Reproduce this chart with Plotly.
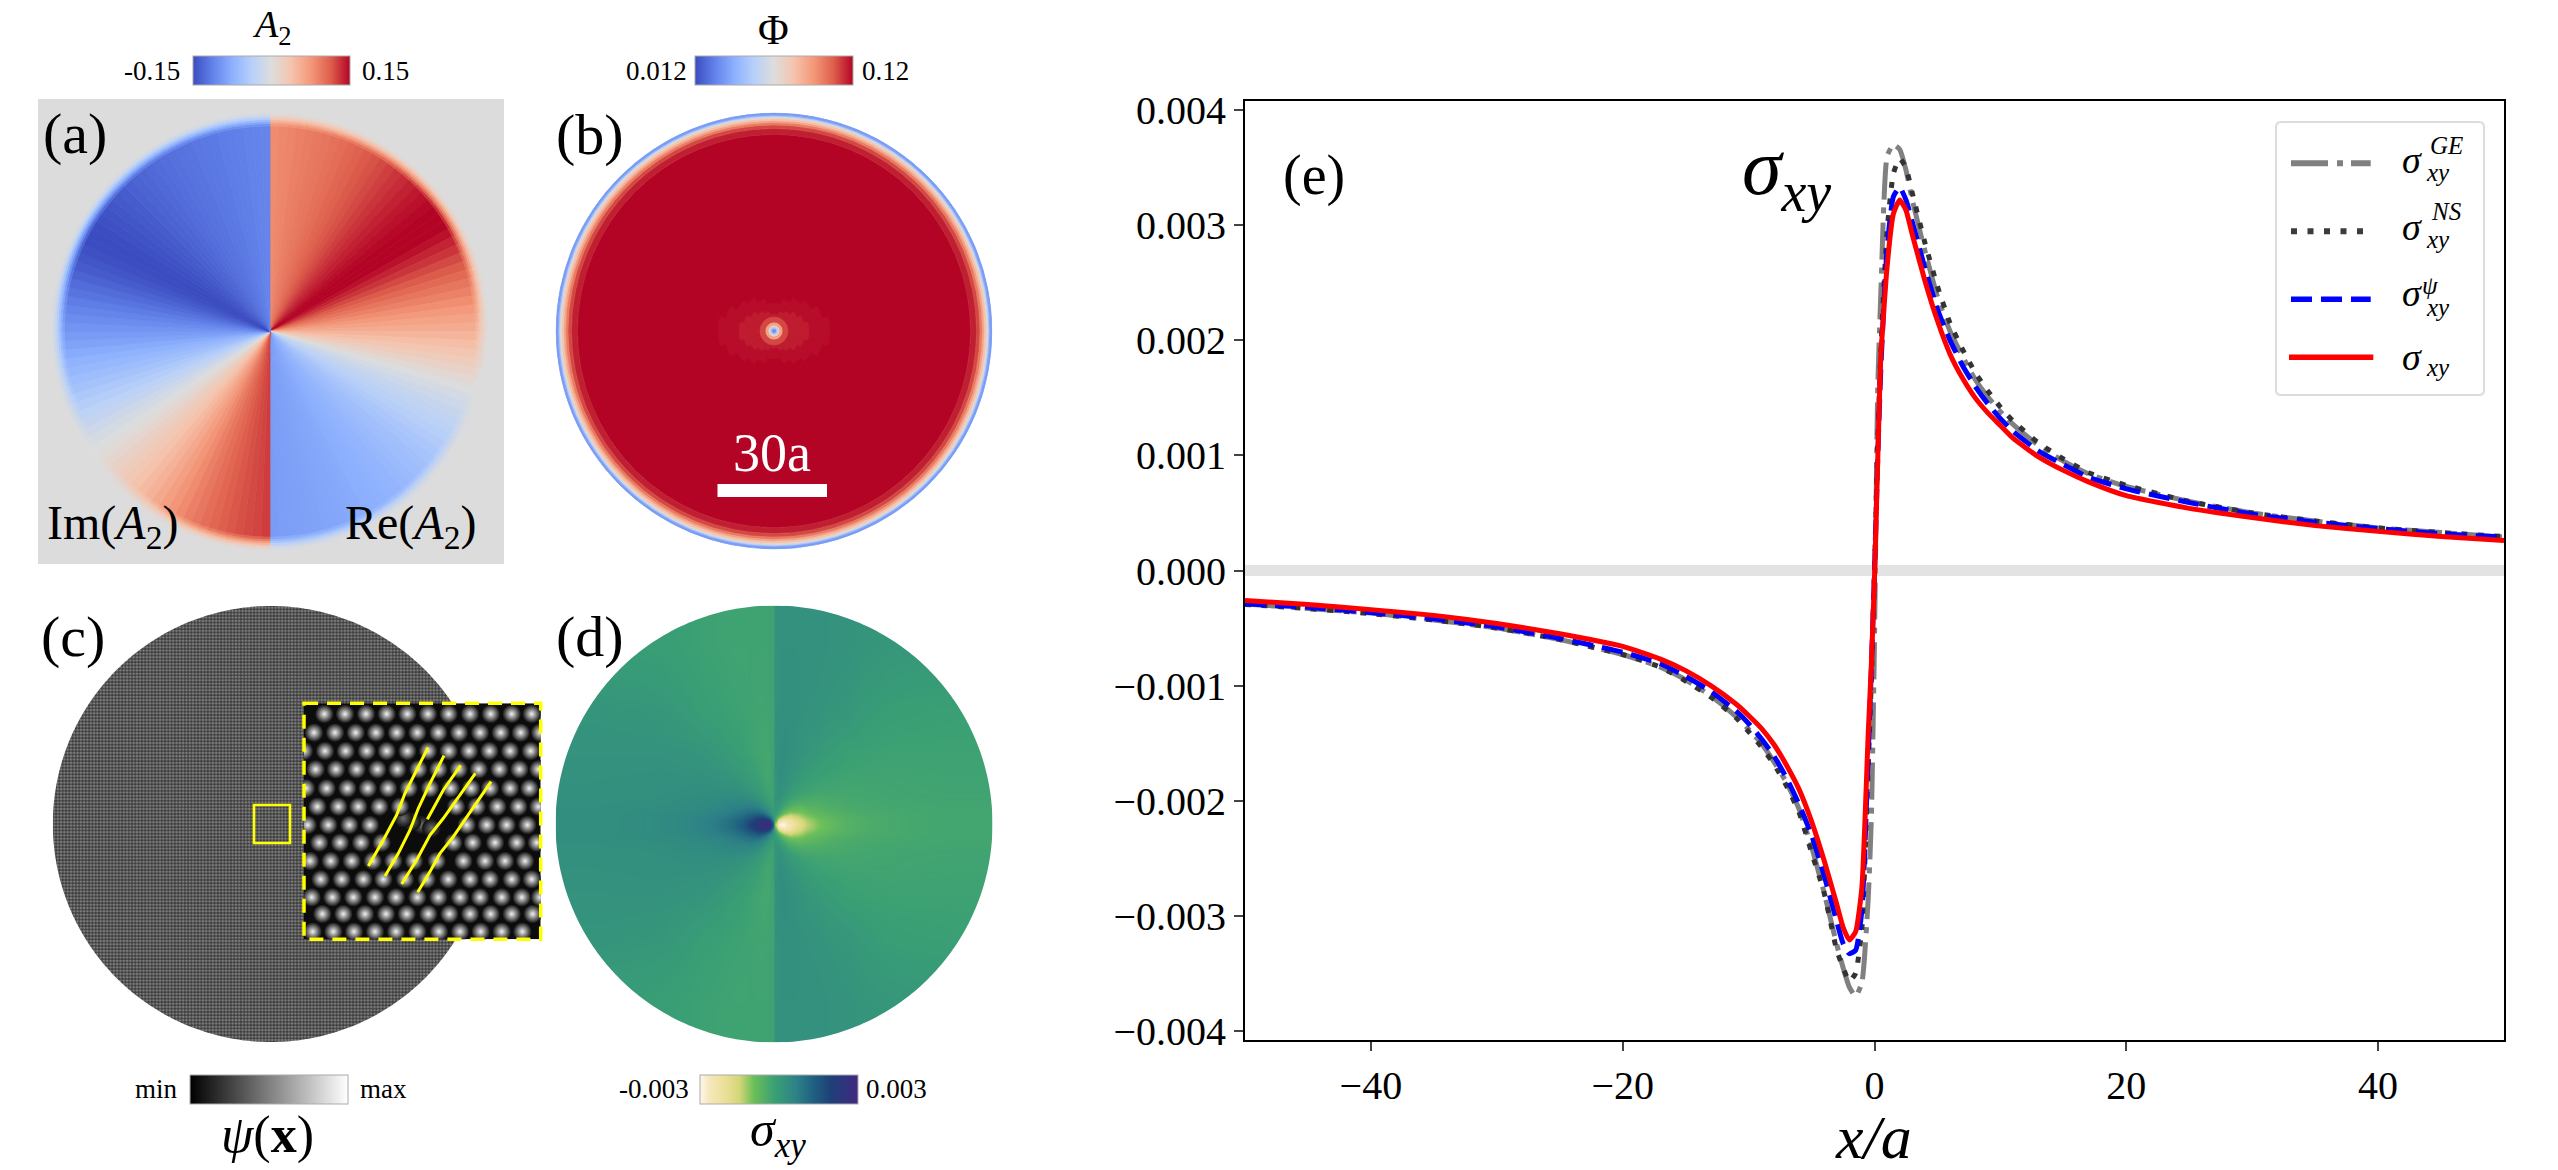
import numpy as np
import plotly.graph_objects as go

W = 2558
H = 1170
SERIF = "Liberation Serif"

# panel (e), values in units of 1e-3
X_A = [-50, -45, -40, -35, -30, -25, -20, -17, -15, -13, -11, -10, -9, -8, -7, -6, -5, -4, -3, -2.5, -2, -1.5, -1, -0.5, -0.25,
       0, 0.25, 0.5, 1, 1.5, 2, 2.5, 3, 4, 5, 6, 7, 8, 9, 10, 11, 13, 15, 17, 20, 25, 30, 35, 40, 45, 50]
SIGMA_GE = [-0.29, -0.33, -0.37, -0.43, -0.50, -0.60, -0.73, -0.84, -0.95, -1.09, -1.27, -1.38, -1.50, -1.66, -1.84, -2.07, -2.40, -2.80, -3.25, -3.45, -3.62, -3.70, -3.58, -2.85, -2.15,
            -0.6, 1.55, 2.40, 3.60, 3.70, 3.66, 3.48, 3.22, 2.78, 2.38, 2.08, 1.86, 1.66, 1.51, 1.38, 1.27, 1.09, 0.95, 0.84, 0.73, 0.60, 0.50, 0.43, 0.37, 0.33, 0.29]
SIGMA_NS = [-0.295, -0.33, -0.375, -0.43, -0.50, -0.60, -0.73, -0.84, -0.96, -1.10, -1.28, -1.40, -1.53, -1.68, -1.87, -2.10, -2.45, -2.80, -3.30, -3.45, -3.57, -3.50, -3.10, -1.70, -0.95,
            0.0, 1.10, 1.90, 2.95, 3.45, 3.58, 3.50, 3.28, 2.85, 2.47, 2.15, 1.92, 1.72, 1.56, 1.42, 1.30, 1.11, 0.97, 0.85, 0.74, 0.60, 0.50, 0.43, 0.37, 0.33, 0.295]
SIGMA_PSI = [-0.29, -0.32, -0.365, -0.42, -0.49, -0.59, -0.71, -0.81, -0.92, -1.05, -1.22, -1.33, -1.46, -1.61, -1.80, -2.03, -2.30, -2.65, -3.05, -3.24, -3.33, -3.30, -2.95, -1.60, -0.85,
             0.0, 0.95, 1.75, 2.80, 3.25, 3.33, 3.22, 3.03, 2.63, 2.27, 2.00, 1.78, 1.60, 1.45, 1.32, 1.21, 1.04, 0.92, 0.81, 0.71, 0.59, 0.49, 0.42, 0.365, 0.32, 0.29]
SIGMA = [-0.26, -0.295, -0.34, -0.39, -0.46, -0.55, -0.66, -0.77, -0.87, -1.00, -1.16, -1.26, -1.37, -1.51, -1.69, -1.90, -2.18, -2.52, -2.90, -3.10, -3.21, -3.14, -2.75, -1.42, -0.82,
         -0.06, 0.93, 1.85, 2.64, 3.10, 3.22, 3.13, 2.92, 2.52, 2.17, 1.88, 1.67, 1.50, 1.37, 1.26, 1.15, 0.99, 0.87, 0.77, 0.65, 0.54, 0.46, 0.39, 0.34, 0.295, 0.26]
X_TICKS = [-40, -20, 0, 20, 40]
Y_TICKS = [-4, -3, -2, -1, 0, 1, 2, 3, 4]

# panel (a), one value per 2.5 degree sector, clockwise from the top
A2_RE = [0.083, 0.086, 0.088, 0.091, 0.093, 0.096, 0.098, 0.101, 0.104, 0.108, 0.111, 0.115, 0.118, 0.122, 0.126, 0.130, 0.134, 0.138, 0.142, 0.145, 0.148, 0.150, 0.150, 0.150,
         0.145, 0.137, 0.130, 0.122, 0.114, 0.106, 0.098, 0.090, 0.082, 0.074, 0.066, 0.058, 0.050, 0.042, 0.034, 0.026, 0.017, 0.008,
         -0.002, -0.010, -0.017, -0.023, -0.029, -0.034, -0.039, -0.044, -0.049, -0.053, -0.057, -0.060, -0.063, -0.066, -0.069, -0.071, -0.073, -0.075, -0.077, -0.079, -0.081, -0.082, -0.083, -0.085, -0.086, -0.087, -0.088, -0.089, -0.090, -0.091]
A2_IM = [0.127, 0.124, 0.122, 0.119, 0.116, 0.113, 0.108, 0.103, 0.097, 0.091, 0.084, 0.077, 0.069, 0.061, 0.053, 0.046, 0.039, 0.032, 0.026, 0.019, 0.012, 0.005, -0.002, -0.009,
         -0.017, -0.025, -0.033, -0.040, -0.047, -0.054, -0.060, -0.066, -0.072, -0.079, -0.086, -0.092, -0.098, -0.104, -0.110, -0.116, -0.122, -0.128, -0.134, -0.139, -0.143, -0.147, -0.149, -0.150,
         -0.149, -0.147, -0.145, -0.143, -0.141, -0.139, -0.136, -0.134, -0.132, -0.130, -0.128, -0.126, -0.124, -0.123, -0.122, -0.120, -0.119, -0.118, -0.116, -0.115, -0.114, -0.112, -0.111, -0.110]
A2_RING_EDGES = [0, 206, 208.5, 210.5, 212.5, 214.5, 216.5, 218.5]
A2_RIM_FADE = [1.0, 0.88, 0.72, 0.55, 0.38, 0.22, 0.08]

# panel (b), rings from the core to the rim
PHI_RING_EDGES = [0, 2.5, 4, 6, 9, 14, 197, 203, 206.5, 209, 211, 213, 214.5, 215.5, 216.5, 218.5]
PHI_RINGS = [0.03, 0.05, 0.07, 0.09, 0.11, 0.12, 0.116, 0.11, 0.10, 0.09, 0.08, 0.07, 0.058, 0.045, 0.033]
LOBE_THETA = [7.5, 22.5, 37.5, 52.5, 67.5, 82.5, 97.5, 112.5, 127.5, 142.5, 157.5, 172.5,
              187.5, 202.5, 217.5, 232.5, 247.5, 262.5, 277.5, 292.5, 307.5, 322.5, 337.5, 352.5]
LOBE_OUTER = [28, 33, 38, 43, 50, 56, 56, 50, 43, 38, 33, 28, 28, 33, 38, 43, 50, 56, 56, 50, 43, 38, 33, 28]
LOBE_INNER = [17, 20, 23, 27, 31, 35, 35, 31, 27, 23, 20, 17, 17, 20, 23, 27, 31, 35, 35, 31, 27, 23, 20, 17]

# panel (c) inset, bright sites per row
INSET_ROW_Y = [72, 128, 183, 238, 295, 350, 405, 458, 513, 568, 622, 672, 725]
INSET_ROW_X = [
    [103, 165, 228, 290, 352, 414, 476, 540, 602, 665, 725],
    [72, 135, 197, 258, 320, 382, 445, 507, 570, 632, 692, 750],
    [42, 105, 167, 230, 290, 352, 414, 476, 537, 598, 660, 722],
    [77, 138, 200, 262, 322, 385, 445, 506, 566, 628, 688, 745],
    [48, 110, 172, 233, 294, 356, 420, 482, 543, 600, 660, 718],
    [82, 145, 205, 268, 330, 498, 560, 622, 685, 745],
    [53, 115, 178, 240, 530, 590, 650, 712],
    [88, 150, 213, 275, 490, 548, 615, 680, 740],
    [60, 122, 185, 248, 310, 372, 440, 520, 585, 645, 705],
    [92, 155, 220, 280, 345, 410, 475, 540, 600, 665, 725],
    [65, 127, 190, 255, 318, 382, 445, 510, 570, 635, 695, 750],
    [97, 160, 225, 288, 350, 415, 478, 540, 602, 665, 728],
    [68, 130, 192, 255, 318, 382, 447, 510, 572, 635, 697],
]
CORE_X = [395, 365, 425, 340]
CORE_Y = [405, 395, 415, 385]
FRINGE_X = [[414, 380, 345, 320, 280, 235], [462, 420, 385, 360, 325, 285], [512, 460, 412],
            [556, 500, 460, 420, 380, 335], [603, 545, 490, 450, 420, 383]]
FRINGE_Y = [[172, 240, 310, 375, 450, 528], [197, 280, 355, 420, 490, 558], [226, 300, 388],
            [250, 330, 385, 435, 510, 582], [275, 360, 440, 490, 545, 607]]
INSET_X_RANGE = [42, 752]
INSET_Y_RANGE = [748, 40]

# panel (d), quarter of the disc in units of 1e-3, the rest follows by mirroring
SXY_X_EDGES = [0, 3, 7, 12, 20, 32, 55, 90, 140, 218.5]
SXY_QUARTER = [
    [-1.2, -3.0, -3.0, -2.5, -1.8, -1.05, -0.6, -0.4, -0.3],
    [-0.4, -1.8, -2.4, -2.2, -1.6, -1.0, -0.6, -0.4, -0.3],
    [-0.1, -0.6, -1.2, -1.5, -1.25, -0.85, -0.55, -0.4, -0.3],
    [0.1, -0.1, -0.4, -0.75, -0.85, -0.65, -0.45, -0.35, -0.3],
    [0.2, 0.2, 0.05, -0.2, -0.4, -0.45, -0.38, -0.3, -0.28],
    [0.2, 0.3, 0.3, 0.15, 0.0, -0.2, -0.28, -0.28, -0.25],
    [0.25, 0.3, 0.35, 0.3, 0.2, 0.05, -0.15, -0.22, -0.22],
    [0.25, 0.25, 0.28, 0.28, 0.25, 0.2, 0.1, -0.1, -0.15],
    [0.22, 0.25, 0.25, 0.25, 0.25, 0.25, 0.2, 0.1, 0.05],
]

COOLWARM = [[0, "#3b4cc0"], [0.125, "#6282ea"], [0.25, "#8db0fe"], [0.375, "#b8d0f9"], [0.5, "#dddddd"],
            [0.625, "#f5c4ad"], [0.75, "#f4987a"], [0.875, "#de604d"], [1, "#b40426"]]
EARTH = [[0, "#fff6ea"], [0.06, "#f6e7bb"], [0.15, "#ede09a"], [0.25, "#d3d678"], [0.34, "#6cbf58"], [0.47, "#3ba074"],
         [0.5, "#379a78"], [0.61, "#2d8187"], [0.72, "#1f5f80"], [0.83, "#1f3f78"], [1, "#40297f"]]
GREYS = [[0, "#000000"], [1, "#ffffff"]]


def fx(px):
    return px / W


def fy(py):
    return 1 - py / H


def disc_domain(cx, cy, r):
    return dict(x=[fx(cx - r), fx(cx + r)], y=[fy(cy + r), fy(cy - r)])


def h_colorbar(left, right, top, bottom):
    return dict(orientation="h", x=fx(left), xanchor="left", y=fy(top), yanchor="top", xpad=0, ypad=0,
                lenmode="pixels", len=right - left, thicknessmode="pixels", thickness=bottom - top,
                showticklabels=False, ticks="", outlinewidth=1, outlinecolor="#aaaaaa")


def rings_trace(theta, base, r, width, values, scale, cmin, cmax, subplot, colorbar=None):
    marker = dict(color=values, colorscale=scale, cmin=cmin, cmax=cmax, showscale=colorbar is not None,
                  line=dict(width=0.7, color=values, colorscale=scale, cmin=cmin, cmax=cmax))
    if colorbar is not None:
        marker["colorbar"] = colorbar
    return go.Barpolar(theta=theta, base=base, r=r, width=width, marker=marker, subplot=subplot,
                       hoverinfo="skip", showlegend=False)


fig = go.Figure()

# panel (a)
a_theta = np.arange(1.25, 360, 2.5)
a_values = np.array(A2_RE + A2_IM)
for i, fade in enumerate(A2_RIM_FADE):
    fig.add_trace(rings_trace(a_theta, [A2_RING_EDGES[i]] * 144, [A2_RING_EDGES[i + 1] - A2_RING_EDGES[i]] * 144, 2.5,
                              a_values * fade, COOLWARM, -0.15, 0.15, "polar",
                              h_colorbar(193, 350, 55.5, 84.5) if i == 0 else None))

# panel (b)
phi_edges = np.array(PHI_RING_EDGES)
fig.add_trace(rings_trace([180] * len(PHI_RINGS[5:]), phi_edges[5:-1], np.diff(phi_edges)[5:], 360, PHI_RINGS[5:],
                          COOLWARM, 0.012, 0.12, "polar2", h_colorbar(695, 853, 55.5, 84.5)))
fig.add_trace(rings_trace(LOBE_THETA, 0, LOBE_OUTER, 15.0, [0.1187] * 24, COOLWARM, 0.012, 0.12, "polar2"))
fig.add_trace(rings_trace(LOBE_THETA, 0, LOBE_INNER, 15.0, [0.1165] * 24, COOLWARM, 0.012, 0.12, "polar2"))
fig.add_trace(rings_trace([180] * 5, phi_edges[:5], np.diff(phi_edges)[:5], 360, PHI_RINGS[:5],
                          COOLWARM, 0.012, 0.12, "polar2"))

# panel (c), disc with the lattice texture
circle = np.linspace(0, 2 * np.pi, 361)
fig.add_trace(go.Scatter(x=218 * np.cos(circle), y=218 * np.sin(circle), mode="none", fill="toself", xaxis="x2", yaxis="y2",
                         fillcolor="#3c3c3c", hoverinfo="skip", showlegend=False,
                         fillpattern=dict(shape=".", size=3.3, solidity=0.5, fgcolor="#c0c0c0", bgcolor="#3c3c3c")))

# panel (c), inset
inset_x = [v for row in INSET_ROW_X for v in row]
inset_y = [y for y, row in zip(INSET_ROW_Y, INSET_ROW_X) for _ in row]
fig.add_trace(go.Scatter(x=[INSET_X_RANGE[0], INSET_X_RANGE[1], INSET_X_RANGE[1], INSET_X_RANGE[0]],
                         y=[INSET_Y_RANGE[0], INSET_Y_RANGE[0], INSET_Y_RANGE[1], INSET_Y_RANGE[1]],
                         mode="none", fill="toself", fillcolor="#0c0c0c", xaxis="x3", yaxis="y3",
                         hoverinfo="skip", showlegend=False))
fig.add_trace(go.Scatter(x=CORE_X, y=CORE_Y, mode="markers", xaxis="x3", yaxis="y3", hoverinfo="skip", showlegend=False,
                         marker=dict(size=19, color="#0c0c0c", line_width=0, gradient=dict(type="radial", color="#6e6e6e"))))
fig.add_trace(go.Scatter(x=inset_x, y=inset_y, mode="markers", xaxis="x3", yaxis="y3", hoverinfo="skip", showlegend=False,
                         marker=dict(size=19, color=[0.04] * len(inset_x), colorscale=GREYS, cmin=0, cmax=1, line_width=0,
                                     gradient=dict(type="radial", color="#f2f2f2"), showscale=True,
                                     colorbar=h_colorbar(190, 348, 1075, 1104))))
for xs, ys in zip(FRINGE_X, FRINGE_Y):
    fig.add_trace(go.Scatter(x=xs, y=ys, mode="lines", xaxis="x3", yaxis="y3", hoverinfo="skip", showlegend=False,
                             line=dict(color="#ffff00", width=3)))

# panel (d), each half of the disc is its own smoothed table
quarter = np.array(SXY_QUARTER)
right_half = np.vstack([quarter[:0:-1], quarter])
left_half = -right_half[:, ::-1]
x_edges = np.array(SXY_X_EDGES)
y_edges = np.concatenate([-x_edges[:0:-1], x_edges[1:]])
fig.add_trace(go.Heatmap(x=x_edges, y=y_edges, z=right_half, zsmooth="best", colorscale=EARTH, zmin=-3, zmax=3,
                         xaxis="x4", yaxis="y4", hoverinfo="skip", colorbar=h_colorbar(700, 858, 1075, 1104)))
fig.add_trace(go.Heatmap(x=-x_edges[::-1], y=y_edges, z=left_half, zsmooth="best", colorscale=EARTH, zmin=-3, zmax=3,
                         xaxis="x4", yaxis="y4", hoverinfo="skip", showscale=False))

# panel (e)
fig.add_trace(go.Scatter(x=X_A, y=np.array(SIGMA_GE) * 1e-3, mode="lines", name="sigma GE", showlegend=False,
                         line=dict(color="#808080", width=5, dash="37px,9px,6px,8px", shape="spline", smoothing=0.5)))
fig.add_trace(go.Scatter(x=X_A, y=np.array(SIGMA_NS) * 1e-3, mode="lines", name="sigma NS", showlegend=False,
                         line=dict(color="#333333", width=5, dash="6px,10.5px", shape="spline", smoothing=0.5)))
fig.add_trace(go.Scatter(x=X_A, y=np.array(SIGMA_PSI) * 1e-3, mode="lines", name="sigma psi", showlegend=False,
                         line=dict(color="#0000ff", width=5, dash="21px,9px", shape="spline", smoothing=0.5)))
fig.add_trace(go.Scatter(x=X_A, y=np.array(SIGMA) * 1e-3, mode="lines", name="sigma", showlegend=False,
                         line=dict(color="#ff0000", width=5, shape="spline", smoothing=0.5)))

hidden_polar = dict(bgcolor="rgba(0,0,0,0)",
                    radialaxis=dict(visible=False, range=[0, 219]),
                    angularaxis=dict(visible=False, rotation=90, direction="clockwise"))
hidden_axis = dict(visible=False, showgrid=False, zeroline=False)

# white frame with a round hole, clips the square tables of panel (d) to the disc
hole_cx, hole_cy, hole_r = 774, 824, 218.5
hole = " ".join(f"{'M' if i == 0 else 'L'} {fx(hole_cx + hole_r * np.cos(t))} {fy(hole_cy + hole_r * np.sin(t))}"
                for i, t in enumerate(circle))
mask_path = (f"M {fx(552)} {fy(602)} L {fx(996)} {fy(602)} L {fx(996)} {fy(1046)} L {fx(552)} {fy(1046)} Z {hole} Z")

shapes = [
    dict(type="rect", xref="paper", yref="paper", x0=fx(38), x1=fx(504), y0=fy(99), y1=fy(564), layer="below",
         fillcolor="#dcdcdc", line_width=0),
    dict(type="rect", xref="paper", yref="paper", x0=fx(717.5), x1=fx(827), y0=fy(484), y1=fy(497),
         fillcolor="#ffffff", line_width=0),
    dict(type="rect", xref="paper", yref="paper", x0=fx(254), x1=fx(290), y0=fy(805), y1=fy(843),
         line=dict(color="#ffff00", width=2.5)),
    dict(type="rect", xref="paper", yref="paper", x0=fx(304), x1=fx(540.7), y0=fy(703.3), y1=fy(939.3),
         line=dict(color="#ffff00", width=3.5, dash="14px,9px")),
    dict(type="path", xref="paper", yref="paper", path=mask_path, fillcolor="#ffffff", fillrule="evenodd", line_width=0),
    dict(type="line", xref="x", yref="y", x0=-50, x1=50, y0=0, y1=0, layer="below",
         line=dict(color="#e3e3e3", width=11)),
    # legend of panel (e)
    dict(type="path", xref="paper", yref="paper",
         path=f"M {fx(2281)} {fy(122)} L {fx(2479)} {fy(122)} Q {fx(2484)} {fy(122)} {fx(2484)} {fy(127)} "
              f"L {fx(2484)} {fy(390)} Q {fx(2484)} {fy(395)} {fx(2479)} {fy(395)} "
              f"L {fx(2281)} {fy(395)} Q {fx(2276)} {fy(395)} {fx(2276)} {fy(390)} "
              f"L {fx(2276)} {fy(127)} Q {fx(2276)} {fy(122)} {fx(2281)} {fy(122)} Z",
         fillcolor="rgba(255,255,255,0.8)", line=dict(color="#dcdcdc", width=2)),
]
for y, color, dash, x0, x1, w in [(163.3, "#808080", "37px,9px,6px,8px", 2291, 2370.7, 6),
                                  (231.3, "#3c3c3c", "6px,10.5px", 2291, 2364, 6),
                                  (299.3, "#0000ff", "21px,9px", 2291, 2370.7, 5.5),
                                  (357.3, "#ff0000", "solid", 2289, 2373.3, 5.5)]:
    shapes.append(dict(type="line", xref="paper", yref="paper", x0=fx(x0), x1=fx(x1), y0=fy(y), y1=fy(y),
                       line=dict(color=color, width=w, dash=dash)))


def label(text, x, y, size, color="#000000"):
    return dict(text=text, x=fx(x), y=fy(y), xref="paper", yref="paper", xanchor="center", yanchor="middle",
                showarrow=False, font=dict(family=SERIF, size=size, color=color))


annotations = [
    label("(a)", 75, 133, 58), label("(b)", 590, 134, 58), label("(c)", 73, 636, 58), label("(d)", 590, 636, 58),
    label("(e)", 1314, 175, 56),
    label("<i>A</i><sub>2</sub>", 272, 27, 38), label("Φ", 774, 30, 42),
    label("-0.15", 152, 71, 27), label("0.15", 385, 71, 27), label("0.012", 656, 71, 27), label("0.12", 886, 71, 27),
    label("Im(<i>A</i><sub>2</sub>)", 112, 526, 48), label("Re(<i>A</i><sub>2</sub>)", 410, 526, 48),
    label("30a", 772, 453, 54, "#ffffff"),
    label("min", 156, 1089, 27), label("max", 383, 1089, 27), label("-0.003", 654, 1089, 27), label("0.003", 897, 1089, 27),
    label("<i>ψ</i>(<b>x</b>)", 267, 1135, 52), label("<i>σ</i><sub><i>xy</i></sub>", 778, 1133, 50),
    label("<i>σ</i><sub><i>xy</i></sub>", 1786, 173, 80),
    label("<i>x/a</i>", 1873, 1137, 62),
]
for y_sigma, y_sup, sup, x_sup, y_sub in [(160, 145, "GE", 2446, 172), (226.7, 211.7, "NS", 2446, 240),
                                          (293, 285, "ψ", 2430, 308), (356.7, None, None, None, 367)]:
    annotations.append(label("<i>σ</i>", 2412, y_sigma, 38))
    annotations.append(label("<i>xy</i>", 2438, y_sub, 25))
    if sup is not None:
        annotations.append(label(f"<i>{sup}</i>", x_sup, y_sup, 25))

fig.update_layout(
    width=W,
    height=H,
    margin=dict(l=0, r=0, t=0, b=0, autoexpand=False),
    paper_bgcolor="#ffffff",
    plot_bgcolor="rgba(0,0,0,0)",
    showlegend=False,
    polar=dict(domain=disc_domain(270, 331.5, 218.5), **hidden_polar),
    polar2=dict(domain=disc_domain(774, 331, 218.5), **hidden_polar),
    xaxis=dict(domain=[fx(1245), fx(2504)], range=[-50, 50], tickmode="array", tickvals=X_TICKS,
               ticks="outside", ticklen=9, tickwidth=2, linecolor="#000000", linewidth=2, mirror=True,
               showgrid=False, zeroline=False, tickfont=dict(family=SERIF, size=40, color="#000000")),
    yaxis=dict(domain=[fy(1040), fy(101)], range=[-0.00408, 0.00408], tickmode="array",
               tickvals=[t * 1e-3 for t in Y_TICKS], tickformat=".3f",
               ticks="outside", ticklen=9, tickwidth=2, linecolor="#000000", linewidth=2, mirror=True,
               showgrid=False, zeroline=False, tickfont=dict(family=SERIF, size=40, color="#000000")),
    xaxis2=dict(domain=[fx(52.8), fx(488.8)], range=[-218, 218], **hidden_axis),
    yaxis2=dict(domain=[fy(1042), fy(606)], range=[-218, 218], **hidden_axis),
    xaxis3=dict(domain=[fx(304), fx(540.7)], range=INSET_X_RANGE, **hidden_axis),
    yaxis3=dict(domain=[fy(939.3), fy(703.3)], range=INSET_Y_RANGE, **hidden_axis),
    xaxis4=dict(domain=[fx(hole_cx - hole_r), fx(hole_cx + hole_r)], range=[-218.5, 218.5], **hidden_axis),
    yaxis4=dict(domain=[fy(hole_cy + hole_r), fy(hole_cy - hole_r)], range=[-218.5, 218.5], **hidden_axis),
    shapes=shapes,
    annotations=annotations,
)

fig.write_html("out.html", config=dict(displayModeBar=False), post_script="document.body.style.margin='0';")
